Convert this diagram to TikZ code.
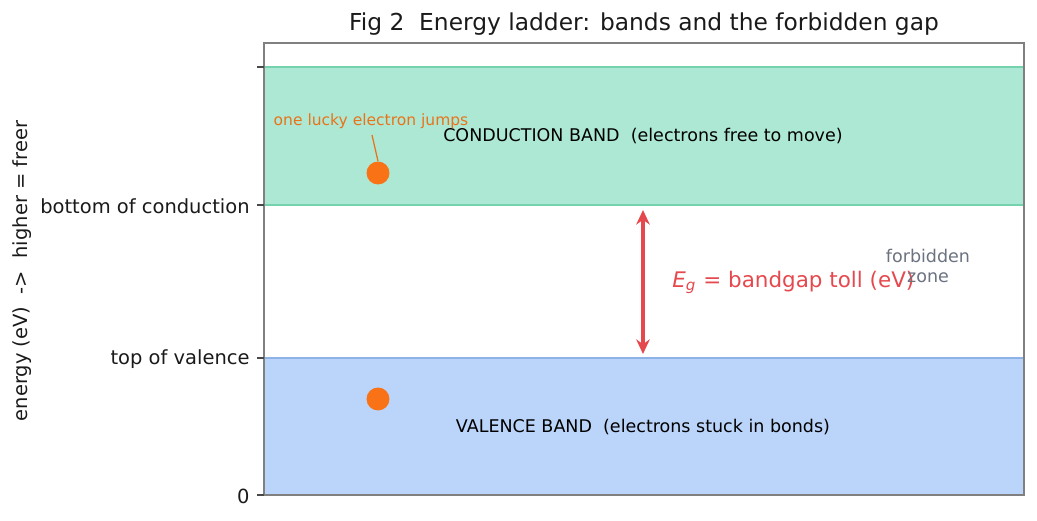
\documentclass[tikz,border=0pt]{standalone}
\usepackage{fontspec}
\setmainfont{DejaVu Sans}
\usetikzlibrary{arrows.meta}
\definecolor{condfill}{HTML}{ADE8D4}
\definecolor{condedge}{HTML}{74D2AE}
\definecolor{valfill}{HTML}{BBD4FA}
\definecolor{valedge}{HTML}{8DB2E8}
\definecolor{eorange}{HTML}{F97316}
\definecolor{annorange}{HTML}{E8741A}
\definecolor{gapred}{HTML}{E5484D}
\definecolor{zonegray}{HTML}{6B7280}
\definecolor{framegray}{HTML}{808080}
\definecolor{ticktext}{HTML}{1A1A1A}
\tikzset{
  ticklab/.style={anchor=east, font=\fontsize{9.35}{11}\selectfont, text=ticktext, inner sep=0pt},
  bandlab/.style={font=\fontsize{8.4}{10}\selectfont, text=black, inner sep=0pt},
  electron/.style={circle, fill=eorange, minimum size=11pt, inner sep=0pt},
  tickmark/.style={draw=ticktext!80, line width=0.6pt}
}
\begin{document}
\begin{tikzpicture}[x=0.48pt,y=-0.48pt]
\useasboundingbox (0,0) rectangle (1037,521);
% bands
\fill[condfill] (264,67) rectangle (1024,205);
\draw[condedge, line width=0.5pt] (264,67) -- (1024,67);
\draw[condedge, line width=0.5pt] (264,205) -- (1024,205);
\fill[valfill] (264,358) rectangle (1024,495);
\draw[valedge, line width=0.5pt] (264,358) -- (1024,358);
% frame
\draw[framegray, line width=0.8pt] (264,43) rectangle (1024,495);
% ticks
\foreach \yy in {67,205,358,495} \draw[tickmark] (257,\yy) -- (264,\yy);
\node[ticklab] (tb) at (250,206) {bottom of conduction};
\node[ticklab] (tv) at (250,359) {top of valence};
\node[ticklab] (t0) at (250,496) {0};
% y label
\node[rotate=90, font=\fontsize{9.35}{11}\selectfont, text=ticktext] (ylab) at (22,271) {energy (eV)\ \ ->\ \ higher = freer};
% title
\node[font=\fontsize{11.2}{13}\selectfont, text=ticktext] (title) at (644,24) {Fig 2\ \ Energy ladder: bands and the forbidden gap};
% band labels
\node[bandlab] (cb) at (643,136) {CONDUCTION BAND\ \ (electrons free to move)};
\node[bandlab] (vb) at (643,427) {VALENCE BAND\ \ (electrons stuck in bonds)};
% electrons
\node[electron] (e1) at (378,173) {};
\node[electron] (e2) at (378,399) {};
% annotation
\node[font=\fontsize{7.45}{9}\selectfont, text=annorange, inner sep=1pt] (ann) at (371,121) {one lucky electron jumps};
\draw[annorange, line width=0.6pt] (ann.south) ++(1,4) coordinate (a1) -- (e1.north);
% gap arrow
\coordinate (gtop) at (643,210);
\coordinate (gbot) at (643,354);
\draw[draw=gapred, fill=gapred, line width=2.2pt, {Stealth[length=7pt,width=6.5pt]}-{Stealth[length=7pt,width=6.5pt]}] (gtop) -- (gbot);
\node[anchor=west, font=\fontsize{10.3}{13}\selectfont, text=gapred, inner sep=0pt] (eg) at (672,282) {{\itshape E}\textsubscript{\itshape g} = bandgap toll (eV)};
\node[align=center, font=\fontsize{8.4}{9.6}\selectfont, text=zonegray, inner sep=0pt] (fz) at (928,266) {forbidden\\zone};
\end{tikzpicture}
\end{document}
